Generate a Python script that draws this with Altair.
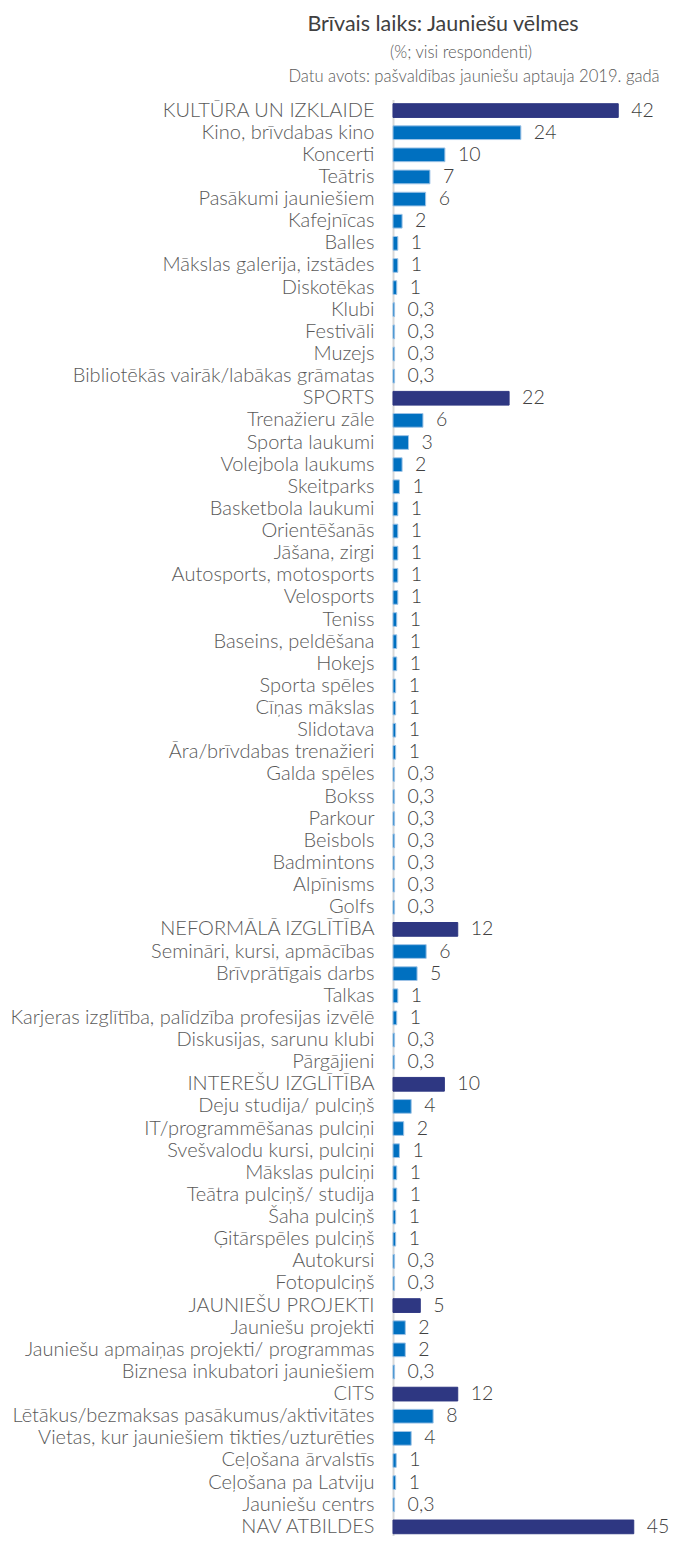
import altair as alt
import pandas as pd

# ---- data ----
categories = [
    "KULTŪRA UN IZKLAIDE", "Kino, brīvdabas kino", "Koncerti", "Teātris",
    "Pasākumi jauniešiem", "Kafejnīcas", "Balles", "Mākslas galerija, izstādes",
    "Diskotēkas", "Klubi", "Festivāli", "Muzejs",
    "Bibliotēkās vairāk/labākas grāmatas",
    "SPORTS", "Trenažieru zāle", "Sporta laukumi", "Volejbola laukums",
    "Skeitparks", "Basketbola laukumi", "Orientēšanās", "Jāšana, zirgi",
    "Autosports, motosports", "Velosports", "Teniss", "Baseins, peldēšana",
    "Hokejs", "Sporta spēles", "Cīņas mākslas", "Slidotava",
    "Āra/brīvdabas trenažieri", "Galda spēles", "Bokss", "Parkour",
    "Beisbols", "Badmintons", "Alpīnisms", "Golfs",
    "NEFORMĀLĀ IZGLĪTĪBA", "Semināri, kursi, apmācības", "Brīvprātīgais darbs",
    "Talkas", "Karjeras izglītība, palīdzība profesijas izvēlē",
    "Diskusijas, sarunu klubi", "Pārgājieni",
    "INTEREŠU IZGLĪTĪBA", "Deju studija/ pulciņš", "IT/programmēšanas pulciņi",
    "Svešvalodu kursi, pulciņi", "Mākslas pulciņi", "Teātra pulciņš/ studija",
    "Šaha pulciņš", "Ģitārspēles pulciņš", "Autokursi", "Fotopulciņš",
    "JAUNIEŠU PROJEKTI", "Jauniešu projekti",
    "Jauniešu apmaiņas projekti/ programmas", "Biznesa inkubatori jauniešiem",
    "CITS", "Lētākus/bezmaksas pasākumus/aktivitātes",
    "Vietas, kur jauniešiem tikties/uzturēties", "Ceļošana ārvalstīs",
    "Ceļošana pa Latviju", "Jauniešu centrs",
    "NAV ATBILDES",
]

values = [
    42.1, 23.9, 9.7, 6.9, 6.1, 1.7, 0.9, 0.9, 0.7, 0.3, 0.3, 0.3, 0.3,
    21.7, 5.6, 2.9, 1.7, 1.2, 0.9, 0.9, 0.9, 0.9, 0.9, 0.7, 0.7, 0.7,
    0.5, 0.5, 0.5, 0.5, 0.3, 0.3, 0.3, 0.3, 0.3, 0.3, 0.3,
    12.1, 6.2, 4.5, 0.9, 0.7, 0.3, 0.3,
    9.6, 3.4, 2.0, 1.2, 0.7, 0.7, 0.5, 0.5, 0.3, 0.3,
    5.1, 2.3, 2.3, 0.3,
    12.1, 7.5, 3.4, 0.6, 0.5, 0.3,
    45.0,
]

labels = [
    "42", "24", "10", "7", "6", "2", "1", "1", "1", "0,3", "0,3", "0,3", "0,3",
    "22", "6", "3", "2", "1", "1", "1", "1", "1", "1", "1", "1", "1",
    "1", "1", "1", "1", "0,3", "0,3", "0,3", "0,3", "0,3", "0,3", "0,3",
    "12", "6", "5", "1", "1", "0,3", "0,3",
    "10", "4", "2", "1", "1", "1", "1", "1", "0,3", "0,3",
    "5", "2", "2", "0,3",
    "12", "8", "4", "1", "1", "0,3",
    "45",
]

headers = ["KULTŪRA UN IZKLAIDE", "SPORTS", "NEFORMĀLĀ IZGLĪTĪBA",
           "INTEREŠU IZGLĪTĪBA", "JAUNIEŠU PROJEKTI", "CITS", "NAV ATBILDES"]
kinds = ["header" if c in headers else "item" for c in categories]

title_text = "Brīvais laiks: Jauniešu vēlmes"
subtitle_1 = "(%; visi respondenti)"
subtitle_2 = "Datu avots: pašvaldības jauniešu aptauja 2019. gadā"

df = pd.DataFrame({"cat": categories, "val": values, "lab": labels, "kind": kinds})

DARK = "#2E3782"
BLUE = "#0070C0"
LIGHT = "#9DC3E6"
FONT = "Lato"

STEP = 22.13
LEFT = 385
W = 267.5
H = 1436.5
RANGE = 65 * STEP

y = alt.Y(
    "cat:N", sort=categories, title=None,
    scale=alt.Scale(paddingInner=0.38, paddingOuter=0.19, range=[0, RANGE]),
    axis=alt.Axis(
        labelFont=FONT, labelFontSize=20, labelFontWeight=300,
        labelColor="#595959", labelLimit=0, labelPadding=19,
        ticks=False, domainColor="#D9D9D9", domainWidth=2, grid=False,
    ),
)
x = alt.X("val:Q", scale=alt.Scale(domain=[0, 50], nice=False), axis=None)

base = alt.Chart(df)

bars = base.mark_bar(strokeWidth=1).encode(
    x=x, y=y,
    color=alt.Color("kind:N", scale=alt.Scale(domain=["header", "item"], range=[DARK, BLUE]), legend=None),
    stroke=alt.Stroke("kind:N", scale=alt.Scale(domain=["header", "item"], range=[DARK, LIGHT]), legend=None),
)

text = base.mark_text(
    align="left", baseline="middle", dx=13, font=FONT, fontSize=19.5,
    fontWeight=300, color="#404040",
).encode(x=x, y=y, text="lab:N")

t1 = alt.Chart(pd.DataFrame({"t": [title_text]})).mark_text(
    align="center", baseline="alphabetic", font=FONT, fontSize=21.5, color="#404040",
).encode(x=alt.value(443 - 8 - LEFT), y=alt.value(-69), text="t:N")

t2 = alt.Chart(pd.DataFrame({"t": [subtitle_1]})).mark_text(
    align="center", baseline="alphabetic", font=FONT, fontSize=16.6, fontWeight=300, color="#595959",
).encode(x=alt.value(461 - 8 - LEFT), y=alt.value(-41.5), text="t:N")

t3 = alt.Chart(pd.DataFrame({"t": [subtitle_2]})).mark_text(
    align="center", baseline="alphabetic", font=FONT, fontSize=16.6, fontWeight=300, color="#595959",
).encode(x=alt.value(474 - 8 - LEFT), y=alt.value(-17.5), text="t:N")

chart = alt.layer(bars, text, t1, t2, t3).properties(
    width=W, height=H,
    autosize=alt.AutoSizeParams(type="none"),
    padding={"left": LEFT, "top": 91.5, "right": 11.5, "bottom": 0},
).configure_view(stroke=None)

chart.save("out.html", embed_options={"renderer": "svg", "actions": False})
